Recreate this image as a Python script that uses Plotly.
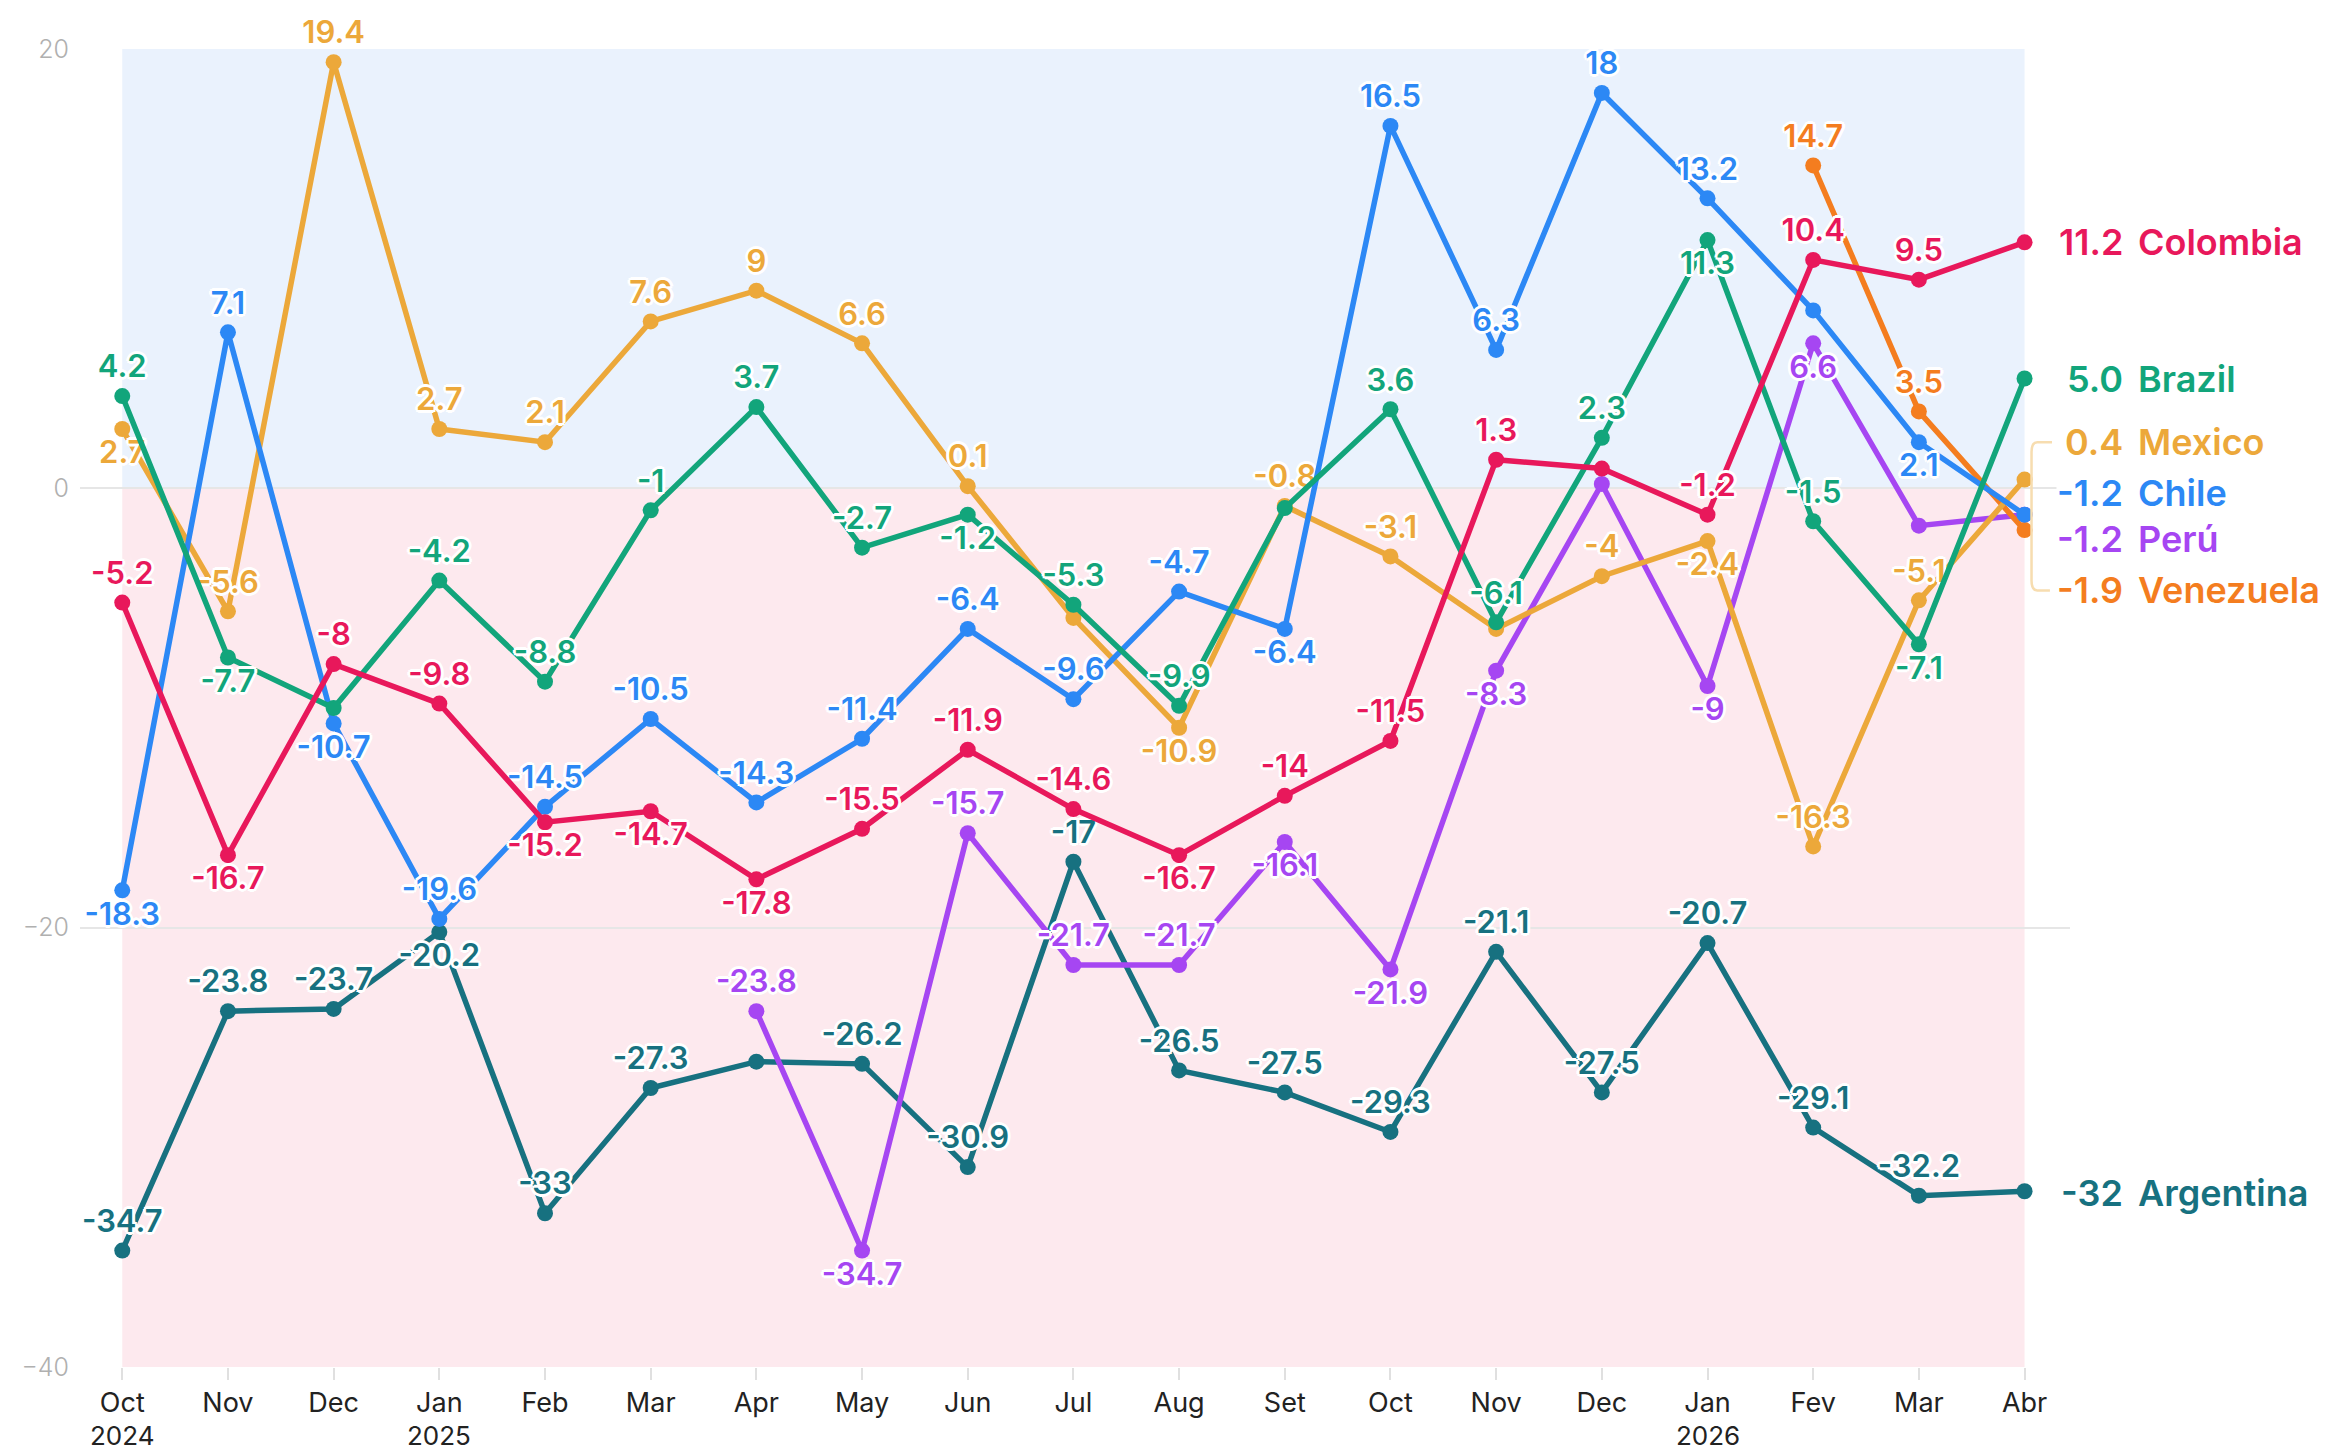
import plotly.graph_objects as go

# ---------------- data ----------------
month_labels = ["Oct", "Nov", "Dec", "Jan", "Feb", "Mar", "Apr", "May", "Jun",
                "Jul", "Aug", "Set", "Oct", "Nov", "Dec", "Jan", "Fev", "Mar", "Abr"]
year_labels = {0: "2024", 3: "2025", 15: "2026"}
x_idx = list(range(len(month_labels)))

colombia = [-5.2, -16.7, -8, -9.8, -15.2, -14.7, -17.8, -15.5, -11.9, -14.6, -16.7, -14, -11.5, 1.3, 0.9, -1.2, 10.4, 9.5, 11.2]
brazil = [4.2, -7.7, -10, -4.2, -8.8, -1, 3.7, -2.7, -1.2, -5.3, -9.9, -0.9, 3.6, -6.1, 2.3, 11.3, -1.5, -7.1, 5.0]
chile = [-18.3, 7.1, -10.7, -19.6, -14.5, -10.5, -14.3, -11.4, -6.4, -9.6, -4.7, -6.4, 16.5, 6.3, 18, 13.2, 8.1, 2.1, -1.2]
mexico = [2.7, -5.6, 19.4, 2.7, 2.1, 7.6, 9, 6.6, 0.1, -5.9, -10.9, -0.8, -3.1, -6.4, -4, -2.4, -16.3, -5.1, 0.4]
peru = [None, None, None, None, None, None, -23.8, -34.7, -15.7, -21.7, -21.7, -16.1, -21.9, -8.3, 0.2, -9, 6.6, -1.7, -1.2]
venezuela = [None] * 16 + [14.7, 3.5, -1.9]
argentina = [-34.7, -23.8, -23.7, -20.2, -33, -27.3, -26.1, -26.2, -30.9, -17, -26.5, -27.5, -29.3, -21.1, -27.5, -20.7, -29.1, -32.2, -32]

series_names = ["Argentina", "Perú", "Venezuela", "Mexico", "Chile", "Brazil", "Colombia"]
series_values = [argentina, peru, venezuela, mexico, chile, brazil, colombia]
end_texts = ["-32", "-1.2", "-1.9", "0.4", "-1.2", "5.0", "11.2"]
end_label_y = [-32.1, -2.3, -4.65, 2.1, -0.2, 5.0, 11.2]

# label placement: T = above, B = below, N = no label
label_pos = {
    "Colombia":  "TBTTBBBTTTBTTTNTTTN",
    "Brazil":    "TBNTTTTTBTTNTTTBTBN",
    "Chile":     "BTBTTTTTTTTBTTTTNBN",
    "Mexico":    "BTTTTTTTTNBTTNTBTTN",
    "Perú":      "NNNNNNTBTTTBBBNBBNN",
    "Venezuela": "NNNNNNNNNNNNNNNNTTN",
    "Argentina": "TTTBTTNTTTTTTTTTTTN",
}

# ---------------- style ----------------
colors = {
    "Colombia": "#E8185B",
    "Brazil": "#12A57B",
    "Chile": "#2C88F5",
    "Mexico": "#ECA83A",
    "Perú": "#A646F2",
    "Venezuela": "#F47D1F",
    "Argentina": "#177180",
}
font_main = "Inter, Roboto, sans-serif"
halo = ("3px 0 0 #fff, -3px 0 0 #fff, 0 3px 0 #fff, 0 -3px 0 #fff, "
        "2px 2px 0 #fff, -2px -2px 0 #fff, 2px -2px 0 #fff, -2px 2px 0 #fff")

fig = go.Figure()

for name, vals in zip(series_names, series_values):
    pos = label_pos[name]
    texts = []
    tpos = []
    for v, p in zip(vals, pos):
        if v is None or p == "N":
            texts.append("")
            tpos.append("top center")
        else:
            texts.append(f"{v:g}")
            tpos.append("top center" if p == "T" else "bottom center")
    fig.add_trace(go.Scatter(
        x=x_idx, y=vals, name=name, mode="lines+markers+text",
        line=dict(color=colors[name], width=5.5),
        marker=dict(color=colors[name], size=16),
        text=texts, textposition=tpos,
        textfont=dict(family=font_main, size=31, color=colors[name], weight=600, shadow=halo),
        cliponaxis=False, showlegend=False, hoverinfo="skip",
    ))

# background zones
fig.add_shape(type="rect", xref="x", yref="y", x0=0, x1=18, y0=0, y1=20,
              fillcolor="#EAF2FD", line_width=0, layer="below")
fig.add_shape(type="rect", xref="x", yref="y", x0=0, x1=18, y0=-40, y1=0,
              fillcolor="#FDE9EE", line_width=0, layer="below")

# bracket for the clustered end labels
fig.add_shape(type="path", xref="x", yref="y",
              path="M 18.26,2.1 L 18.12,2.1 Q 18.066,2.1 18.066,1.65 L 18.066,-4.2 Q 18.066,-4.65 18.12,-4.65 L 18.24,-4.65",
              line=dict(color="#F7DDB0", width=2.5), layer="above")

# end labels
for name, txt, ly in zip(series_names, end_texts, end_label_y):
    fig.add_annotation(x=18, y=ly, xref="x", yref="y", text=txt,
                       xanchor="right", yanchor="middle", xshift=99, showarrow=False,
                       font=dict(family=font_main, size=36, color=colors[name], weight=600),
                       bgcolor="#fff", borderpad=0)
    fig.add_annotation(x=18, y=ly, xref="x", yref="y", text=name,
                       xanchor="left", yanchor="middle", xshift=112, showarrow=False,
                       font=dict(family=font_main, size=36, color=colors[name], weight=600),
                       bgcolor="#fff", borderpad=0)

# year labels under the month ticks
for xi, yr in year_labels.items():
    fig.add_annotation(x=xi, y=0, xref="x", yref="paper", text=yr,
                       xanchor="center", yanchor="middle", yshift=-68, showarrow=False,
                       font=dict(family=font_main, size=26, color="#222"), borderpad=0)

fig.update_layout(
    width=2335, height=1448,
    margin=dict(l=72, r=273, t=41, b=89),
    paper_bgcolor="#fff", plot_bgcolor="#fff",
    xaxis=dict(range=[-0.4, 18.43], tickvals=x_idx, ticktext=month_labels, automargin=False,
               showgrid=False, zeroline=False, showline=False,
               ticks="outside", ticklen=12, tickwidth=2, tickcolor="#E0E0E0",
               tickfont=dict(family=font_main, size=27, color="#222")),
    yaxis=dict(range=[-40, 20], tickvals=[-40, -20, 0, 20], automargin=False,
               showgrid=True, gridcolor="#E6E6E6", gridwidth=2, zeroline=False,
               showline=False, ticks="", ticklabelstandoff=10,
               tickfont=dict(family=font_main, size=25, color="#B0B0B0", weight=300)),
)

fig.write_html("out.html")
